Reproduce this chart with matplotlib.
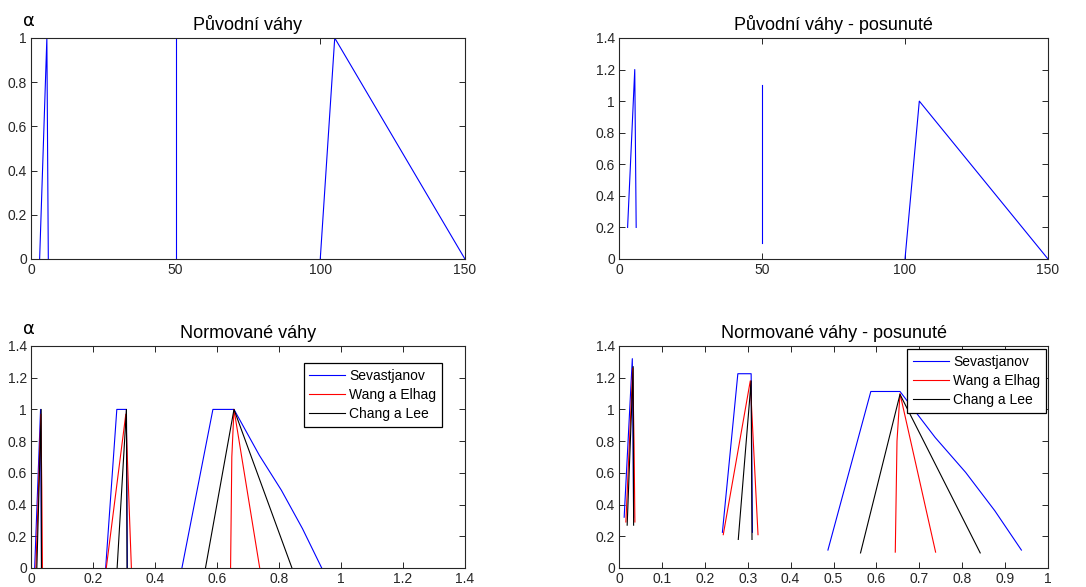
import matplotlib

matplotlib.use("Agg")
import matplotlib.pyplot as plt
from matplotlib.ticker import FuncFormatter, MultipleLocator

plt.rcParams["font.family"] = ["Liberation Sans", "DejaVu Sans"]

# original fuzzy weights (x, alpha) and the vertical shift used in the right-hand plot
orig_x = [[3, 5.5, 6], [50, 50], [100, 105, 150]]
orig_alpha = [[0, 1, 0], [0, 1], [0, 1, 0]]
orig_shift = [0.2, 0.1, 0.0]

# normalised weights, one list of three fuzzy numbers per method
sev_x = [
    [0.012, 0.031, 0.034],
    [0.241, 0.277, 0.308, 0.311],
    [0.487, 0.587, 0.655, 0.737, 0.808, 0.876, 0.938],
]
sev_alpha = [[0, 1, 0], [0, 1, 1, 0], [0, 1, 1, 0.71, 0.49, 0.248, 0]]
sev_shift = [0.32, 0.225, 0.113]

wang_x = [
    [0.016, 0.032, 0.035, 0.037],
    [0.243, 0.306, 0.310, 0.324],
    [0.644, 0.648, 0.655, 0.738],
]
wang_alpha = [[0, 0.97, 0.5, 0], [0, 0.97, 0.75, 0], [0, 0.7, 1, 0]]
wang_shift = [0.29, 0.21, 0.1]

chang_x = [
    [0.019, 0.033, 0.034],
    [0.278, 0.308, 0.310],
    [0.563, 0.655, 0.842],
]
chang_alpha = [[0, 1, 0], [0, 1, 0], [0, 1, 0]]
chang_shift = [0.27, 0.18, 0.095]

methods = [
    ("Sevastjanov", "#0000ff", sev_x, sev_alpha, sev_shift),
    ("Wang a Elhag", "#ff0000", wang_x, wang_alpha, wang_shift),
    ("Chang a Lee", "#000000", chang_x, chang_alpha, chang_shift),
]

AXIS_COLOR = "#262626"


def style_axis(axis, xmax, xstep, ymax, title):
    axis.set_xlim(0, xmax)
    axis.set_ylim(0, ymax)
    axis.xaxis.set_major_locator(MultipleLocator(xstep))
    axis.yaxis.set_major_locator(MultipleLocator(0.2))
    fmt = FuncFormatter(lambda v, _: f"{v:g}")
    axis.xaxis.set_major_formatter(fmt)
    axis.yaxis.set_major_formatter(fmt)
    axis.tick_params(direction="in", length=4, width=0.7, top=True, right=True,
                     labelsize=10, colors=AXIS_COLOR, pad=3)
    for spine in axis.spines.values():
        spine.set_color(AXIS_COLOR)
        spine.set_linewidth(0.8)
    axis.set_title(title, fontsize=13, pad=6)


def plot_fuzzy(axis, xs, alphas, shifts, color, label=None, shifted=False):
    for i, (x, a) in enumerate(zip(xs, alphas)):
        offset = shifts[i] if shifted else 0.0
        axis.plot(x, [v + offset for v in a], color=color, linewidth=0.8,
                  label=label if i == 0 else None)


figure = plt.figure(figsize=(10.86, 5.87), dpi=100)
ax_tl = figure.add_axes([0.0285, 0.5588, 0.3996, 0.3765])
ax_tr = figure.add_axes([0.5700, 0.5588, 0.3950, 0.3765])
ax_bl = figure.add_axes([0.0285, 0.0324, 0.3996, 0.3782])
ax_br = figure.add_axes([0.5700, 0.0324, 0.3950, 0.3782])

plot_fuzzy(ax_tl, orig_x, orig_alpha, orig_shift, "#0000ff")
style_axis(ax_tl, 150, 50, 1.0, "Původní váhy")

plot_fuzzy(ax_tr, orig_x, orig_alpha, orig_shift, "#0000ff", shifted=True)
style_axis(ax_tr, 150, 50, 1.4, "Původní váhy - posunuté")

for name, color, xs, alphas, shifts in methods:
    plot_fuzzy(ax_bl, xs, alphas, shifts, color, label=name)
    plot_fuzzy(ax_br, xs, alphas, shifts, color, label=name, shifted=True)
style_axis(ax_bl, 1.4, 0.2, 1.4, "Normované váhy")
style_axis(ax_br, 1.0, 0.1, 1.4, "Normované váhy - posunuté")

for axis, anchor in [(ax_bl, (0.947, 0.923)), (ax_br, (0.995, 0.986))]:
    legend = axis.legend(loc="upper right", bbox_to_anchor=anchor, fontsize=10,
                         fancybox=False, framealpha=1, edgecolor="#000000",
                         handlelength=2.6, handletextpad=0.3, borderpad=0.4,
                         borderaxespad=0, labelspacing=0.38)
    legend.get_frame().set_linewidth(0.9)

for axis in (ax_tl, ax_bl):
    axis.text(-0.018, 1.035, "α", transform=axis.transAxes, fontsize=13,
              ha="left", va="bottom", family="DejaVu Sans")

figure.savefig("out.png", dpi=100)
plt.close(figure)
